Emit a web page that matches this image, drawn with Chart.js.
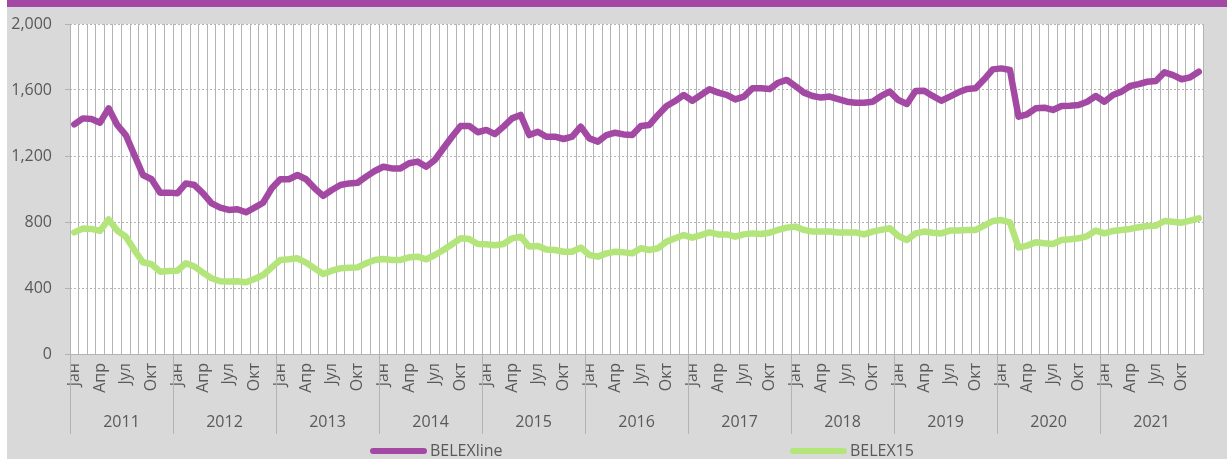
<!DOCTYPE html>
<html>
<head>
<meta charset="utf-8">
<script src="https://cdn.jsdelivr.net/npm/chart.js@4.4.1/dist/chart.umd.min.js"></script>
<style>
  html, body { margin: 0; padding: 0; background: #fff; overflow: hidden; }
  #wrap { position: relative; width: 1227px; height: 459px; }
</style>
</head>
<body>
<div id="wrap"><canvas id="belexChart"></canvas></div>
<script>
const monthNames = ['Јан', 'Феб', 'Мар', 'Апр', 'Мај', 'Јун', 'Јул', 'Авг', 'Сеп', 'Окт', 'Нов', 'Дец'];
const years = ['2011', '2012', '2013', '2014', '2015', '2016', '2017', '2018', '2019', '2020', '2021'];
const shownMonths = ['Јан', 'Апр', 'Јул', 'Окт'];
const yTicks = [0, 400, 800, 1200, 1600, 2000];

const belexLine = [
  1392, 1428, 1424, 1402, 1489, 1388, 1327, 1206, 1085, 1059, 978, 978,
  974, 1034, 1024, 974, 913, 887, 873, 877, 859, 887, 917, 1004,
  1059, 1059, 1085, 1059, 1004, 958, 994, 1024, 1034, 1038, 1075, 1109,
  1135, 1125, 1125, 1156, 1166, 1135, 1176, 1247, 1317, 1382, 1382, 1344,
  1358, 1333, 1378, 1428, 1449, 1327, 1347, 1317, 1317, 1303, 1317, 1378,
  1307, 1287, 1327, 1341, 1331, 1327, 1382, 1388, 1449, 1503, 1533, 1570,
  1535, 1570, 1604, 1584, 1570, 1543, 1560, 1610, 1610, 1606, 1644, 1661,
  1624, 1584, 1564, 1554, 1560, 1545, 1529, 1523, 1523, 1529, 1564, 1590,
  1539, 1515, 1594, 1596, 1564, 1535, 1560, 1586, 1606, 1610, 1665, 1725,
  1731, 1721, 1438, 1453, 1489, 1493, 1479, 1503, 1505, 1509, 1529, 1564,
  1529, 1570, 1590, 1624, 1636, 1650, 1654, 1707, 1690, 1665, 1677, 1711
];

const belex15 = [
  737, 760, 758, 746, 816, 748, 711, 630, 556, 544, 499, 503,
  505, 550, 530, 493, 459, 441, 439, 441, 435, 455, 479, 525,
  570, 574, 580, 554, 519, 485, 505, 519, 523, 525, 550, 570,
  576, 570, 570, 586, 590, 574, 600, 630, 665, 701, 697, 667,
  665, 659, 667, 701, 711, 651, 655, 634, 630, 620, 620, 645,
  600, 590, 610, 620, 616, 610, 641, 630, 641, 681, 701, 721,
  705, 721, 737, 725, 725, 711, 725, 731, 727, 735, 752, 766,
  772, 752, 742, 742, 742, 737, 737, 737, 725, 742, 752, 762,
  715, 691, 731, 742, 735, 731, 748, 748, 752, 752, 778, 806,
  812, 798, 645, 657, 677, 671, 667, 691, 695, 701, 715, 748,
  731, 746, 752, 758, 768, 776, 778, 806, 802, 796, 808, 822
];

const labels = [];
years.forEach(y => monthNames.forEach(m => labels.push(m + ' ' + y)));

const FONT = '"Open Sans", "Noto Sans", sans-serif';
const TEXT = '#595959';
const GRID = '#b3b3b3';

// background, purple band, white plot area
const frame = {
  id: 'frame',
  beforeDraw(chart) {
    const { ctx, chartArea: a, width, height } = chart;
    ctx.save();
    ctx.fillStyle = '#ffffff';
    ctx.fillRect(0, 0, width, height);
    ctx.fillStyle = '#d9d9d9';
    ctx.fillRect(7, 0, width - 7, height);
    ctx.fillStyle = '#a349a4';
    ctx.fillRect(7, 0, width - 7, 7);
    ctx.fillStyle = '#ffffff';
    ctx.fillRect(a.left, a.top, a.right - a.left, a.bottom - a.top);
    ctx.restore();
  }
};

// year row under the month labels, plus legend
const yearsAndLegend = {
  id: 'yearsAndLegend',
  afterDraw(chart) {
    const { ctx, chartArea: a } = chart;
    const x = chart.scales.x;
    const step = x.getPixelForValue(1) - x.getPixelForValue(0);
    ctx.save();
    ctx.strokeStyle = GRID;
    ctx.lineWidth = 1;
    ctx.font = '16px ' + FONT;
    ctx.fillStyle = TEXT;
    ctx.textAlign = 'center';
    ctx.textBaseline = 'middle';
    years.forEach((y, i) => {
      const l = x.getPixelForValue(i * 12) - step / 2;
      const r = x.getPixelForValue(i * 12 + 11) + step / 2;
      const lx = Math.round(l) + 0.5;
      ctx.beginPath();
      ctx.moveTo(lx, a.bottom);
      ctx.lineTo(lx, a.bottom + 80);
      ctx.stroke();
      ctx.fillText(y, (l + r) / 2, a.bottom + 68);
    });

    const legendX = [370, 790];
    const ly = 451;
    ctx.textAlign = 'left';
    chart.data.datasets.forEach((ds, i) => {
      const sx = legendX[i];
      ctx.strokeStyle = ds.borderColor;
      ctx.lineWidth = 6;
      ctx.lineCap = 'round';
      ctx.beginPath();
      ctx.moveTo(sx + 3, ly);
      ctx.lineTo(sx + 54, ly);
      ctx.stroke();
      ctx.fillStyle = TEXT;
      ctx.fillText(ds.label, sx + 60, ly);
    });
    ctx.restore();
  }
};

new Chart(document.getElementById('belexChart'), {
  type: 'line',
  data: {
    labels: labels,
    datasets: [
      {
        label: 'BELEXline',
        data: belexLine,
        borderColor: '#a349a4',
        borderWidth: 6.5,
        pointRadius: 0,
        tension: 0,
        borderJoinStyle: 'round',
        borderCapStyle: 'round'
      },
      {
        label: 'BELEX15',
        data: belex15,
        borderColor: '#b3e57b',
        borderWidth: 6.5,
        pointRadius: 0,
        tension: 0,
        borderJoinStyle: 'round',
        borderCapStyle: 'round'
      }
    ]
  },
  options: {
    responsive: true,
    maintainAspectRatio: false,
    animation: false,
    layout: { padding: { top: 24, left: 0, right: 0, bottom: 0 } },
    plugins: {
      legend: { display: false },
      tooltip: { enabled: false }
    },
    scales: {
      x: {
        offset: true,
        grid: { offset: true, color: GRID, lineWidth: 1, drawTicks: false },
        border: { display: true, color: GRID, width: 1 },
        ticks: {
          autoSkip: false,
          minRotation: 90,
          maxRotation: 90,
          padding: 9,
          color: TEXT,
          font: { family: FONT, size: 16 },
          callback: function (value, index) {
            const m = monthNames[index % 12];
            return shownMonths.includes(m) ? m : '';
          }
        },
        afterFit: function (scale) { scale.height = 105; }
      },
      y: {
        min: 0,
        max: 2000,
        afterBuildTicks: function (scale) {
          scale.ticks = yTicks.map(v => ({ value: v }));
        },
        grid: { color: GRID, lineWidth: 1, tickLength: 5, tickColor: GRID, tickBorderDash: [] },
        border: { display: false, dash: [2, 2] },
        ticks: {
          padding: 13,
          color: TEXT,
          font: { family: FONT, size: 16 },
          callback: v => v.toLocaleString('en-US')
        },
        afterFit: function (scale) { scale.width = 70; }
      }
    }
  },
  plugins: [frame, yearsAndLegend]
});
</script>
</body>
</html>
